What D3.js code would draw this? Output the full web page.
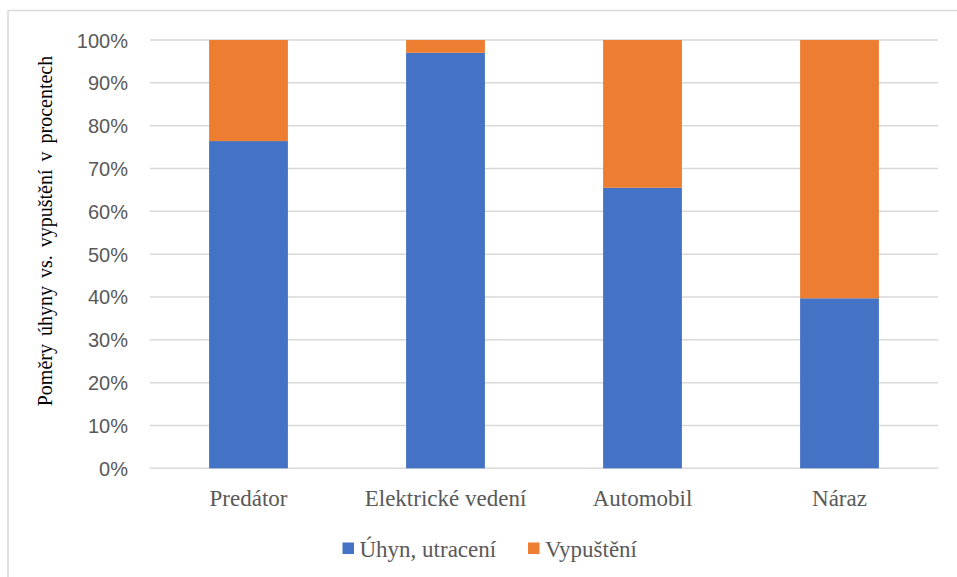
<!DOCTYPE html>
<html>
<head>
<meta charset="utf-8">
<script src="https://cdn.jsdelivr.net/npm/d3@7"></script>
<style>
  html, body { margin: 0; padding: 0; background: #ffffff; }
  svg { display: block; }
</style>
</head>
<body>
<svg id="chart" width="957" height="577"></svg>
<script>
// ---- data ----
const categories = ["Predátor", "Elektrické vedení", "Automobil", "Náraz"];
const seriesNames = ["Úhyn, utracení", "Vypuštění"];
const uhynValues = [76.4, 97.0, 65.5, 39.7];
const vypusteniValues = [23.6, 3.0, 34.5, 60.3];
const yTicks = [0, 10, 20, 30, 40, 50, 60, 70, 80, 90, 100];
const yAxisTitle = "Poměry úhyny vs. vypuštění v procentech";
const colors = ["#4472C4", "#ED7D31"];

// ---- layout ----
const svg = d3.select("#chart");
const W = 957, H = 577;
const plot = { left: 150, right: 938, top: 40, bottom: 468.3 };

// chart area border
svg.append("rect")
  .attr("x", 8).attr("y", 10.5)
  .attr("width", W + 20).attr("height", H + 20)
  .attr("fill", "#ffffff")
  .attr("stroke", "#d9d9d9").attr("stroke-width", 1.5);

const x = d3.scaleBand().domain(categories)
  .range([plot.left, plot.right]).paddingInner(0.6).paddingOuter(0.3);
const y = d3.scaleLinear().domain([0, 100]).range([plot.bottom, plot.top]);

// gridlines
svg.append("g").selectAll("line").data(yTicks).join("line")
  .attr("x1", plot.left).attr("x2", plot.right)
  .attr("y1", d => y(d)).attr("y2", d => y(d))
  .attr("stroke", "#d9d9d9").attr("stroke-width", 1.5);

// y axis via d3 axis
const yAxis = d3.axisLeft(y).tickValues(yTicks).tickFormat(d => d + "%").tickSize(0).tickPadding(0);
const yg = svg.append("g").attr("transform", `translate(${plot.left - 22},0)`).call(yAxis);
yg.select(".domain").remove();
yg.selectAll("text")
  .attr("fill", "#595959")
  .style("font-family", "'Liberation Sans', Arial, sans-serif")
  .style("font-size", "20px")
  .attr("dy", "0.35em");

// stacked bars
const rows = categories.map((c, i) => ({ cat: c, a: uhynValues[i], b: vypusteniValues[i] }));
const stack = d3.stack().keys(["a", "b"]);
const stacked = stack(rows);
svg.append("g").selectAll("g").data(stacked).join("g")
  .attr("fill", (d, i) => colors[i])
  .selectAll("rect").data(d => d).join("rect")
  .attr("x", d => x(d.data.cat))
  .attr("width", x.bandwidth())
  .attr("y", d => y(d[1]))
  .attr("height", d => y(d[0]) - y(d[1]));

// x axis labels
const xAxis = d3.axisBottom(x).tickSize(0).tickPadding(0);
const xg = svg.append("g").attr("transform", `translate(0,${plot.bottom})`).call(xAxis);
xg.select(".domain").remove();
xg.selectAll("text")
  .attr("fill", "#595959")
  .attr("y", 38).attr("dy", 0)
  .style("font-family", "'Liberation Serif', 'Times New Roman', serif")
  .style("font-size", "23px");

// y axis title
svg.append("text")
  .attr("transform", `translate(52,231) rotate(-90)`)
  .attr("text-anchor", "middle")
  .attr("fill", "#000000")
  .style("font-family", "'Liberation Serif', 'Times New Roman', serif")
  .style("font-size", "20px")
  .style("word-spacing", "3px")
  .text(yAxisTitle);

// legend
const legendItems = [
  { name: seriesNames[0], color: colors[0], x: 342.5 },
  { name: seriesNames[1], color: colors[1], x: 528 }
];
const lg = svg.append("g");
legendItems.forEach(it => {
  lg.append("rect").attr("x", it.x).attr("y", 542.5).attr("width", 11.5).attr("height", 11.5).attr("fill", it.color);
  lg.append("text").attr("x", it.x + 17).attr("y", 557)
    .attr("fill", "#595959")
    .style("font-family", "'Liberation Serif', 'Times New Roman', serif")
    .style("font-size", "23px")
    .text(it.name);
});
</script>
</body>
</html>
